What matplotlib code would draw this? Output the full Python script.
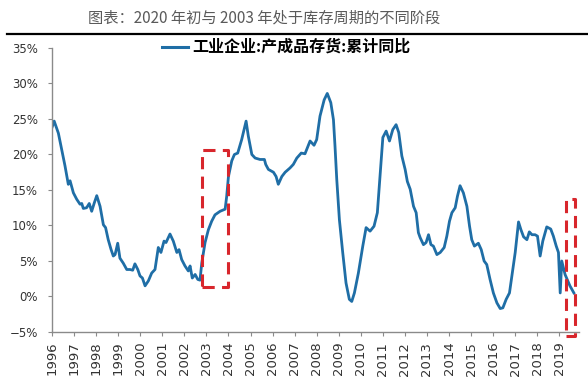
import matplotlib.pyplot as plt
from matplotlib.patches import Rectangle
from matplotlib.lines import Line2D

plt.rcParams['font.family'] = ['Noto Sans CJK SC', 'DejaVu Sans']
plt.rcParams['axes.unicode_minus'] = True

# --------------------------------------------------
# Data (decimal years / %)
# --------------------------------------------------
dates = [
    1996.00, 1996.10, 1996.29, 1996.44, 1996.59, 1996.74, 1996.82, 1996.97,
    1997.12, 1997.27, 1997.35, 1997.42, 1997.57, 1997.69, 1997.80, 1997.92,
    1998.03, 1998.18, 1998.33, 1998.43, 1998.55, 1998.68, 1998.78, 1998.86,
    1998.98, 1999.08, 1999.23, 1999.39, 1999.54, 1999.66, 1999.76, 1999.89,
    1999.99, 2000.10, 2000.22, 2000.37, 2000.52, 2000.67, 2000.75, 2000.82,
    2000.94, 2001.08, 2001.17, 2001.35, 2001.50, 2001.66, 2001.76, 2001.88,
    2002.03, 2002.18, 2002.26, 2002.36, 2002.49, 2002.61, 2002.71, 2002.79,
    2002.94, 2003.09, 2003.24, 2003.39, 2003.62, 2003.85, 2003.92, 2004.00,
    2004.15, 2004.27, 2004.42, 2004.60, 2004.80, 2004.90, 2005.06, 2005.21,
    2005.43, 2005.63, 2005.69, 2005.81, 2006.04, 2006.16, 2006.26, 2006.42,
    2006.57, 2006.79, 2006.94, 2007.10, 2007.30, 2007.47, 2007.70, 2007.88,
    2008.00, 2008.15, 2008.34, 2008.48, 2008.64, 2008.76, 2008.83, 2008.91,
    2009.03, 2009.18, 2009.33, 2009.48, 2009.59, 2009.71, 2009.89, 2010.09,
    2010.24, 2010.42, 2010.60, 2010.75, 2010.88, 2011.00, 2011.15, 2011.30,
    2011.45, 2011.60, 2011.72, 2011.86, 2012.01, 2012.11, 2012.24, 2012.39,
    2012.51, 2012.61, 2012.69, 2012.84, 2012.96, 2013.07, 2013.18, 2013.29,
    2013.45, 2013.60, 2013.78, 2013.90, 2014.02, 2014.13, 2014.28, 2014.38,
    2014.50, 2014.65, 2014.81, 2014.93, 2015.03, 2015.15, 2015.33, 2015.46,
    2015.59, 2015.71, 2015.86, 2016.01, 2016.17, 2016.32, 2016.44, 2016.59,
    2016.74, 2016.85, 2017.00, 2017.15, 2017.26, 2017.38, 2017.53, 2017.64,
    2017.76, 2017.90, 2018.01, 2018.13, 2018.25, 2018.43, 2018.61, 2018.73,
    2018.86, 2018.96, 2019.04, 2019.11, 2019.26, 2019.33, 2019.48, 2019.66,
]
values = [
    23.8, 24.7, 23.0, 20.7, 18.4, 15.8, 16.3, 14.6,
    13.7, 13.0, 13.1, 12.4, 12.5, 13.1, 12.0, 13.2,
    14.2, 12.7, 10.1, 9.7, 8.0, 6.6, 5.7, 5.9,
    7.5, 5.4, 4.7, 3.8, 3.8, 3.7, 4.6, 3.8,
    2.9, 2.6, 1.5, 2.2, 3.3, 3.8, 5.4, 6.9,
    6.2, 7.8, 7.6, 8.8, 7.8, 6.2, 6.6, 5.2,
    4.3, 3.6, 4.3, 2.6, 3.1, 2.4, 2.3, 4.7,
    7.6, 9.4, 10.6, 11.5, 12.0, 12.3, 14.1, 16.9,
    19.1, 20.0, 20.2, 22.1, 24.7, 22.6, 20.0, 19.5,
    19.3, 19.3, 18.6, 17.9, 17.5, 16.9, 15.8, 16.9,
    17.5, 18.1, 18.6, 19.5, 20.2, 20.1, 21.9, 21.3,
    22.1, 25.4, 27.7, 28.6, 27.3, 24.9, 21.2, 16.5,
    10.8, 6.2, 1.9, -0.4, -0.7, 0.5, 3.3, 7.1,
    9.7, 9.2, 9.9, 11.8, 17.4, 22.4, 23.3, 21.9,
    23.5, 24.2, 23.1, 19.8, 17.9, 16.2, 15.1, 12.7,
    11.8, 9.0, 8.3, 7.3, 7.6, 8.7, 7.3, 7.1,
    5.9, 6.2, 6.9, 8.5, 10.6, 11.8, 12.5, 14.1,
    15.6, 14.6, 12.7, 9.9, 8.0, 7.1, 7.5, 6.6,
    5.0, 4.5, 2.4, 0.5, -0.9, -1.7, -1.6, -0.4,
    0.5, 2.9, 6.2, 10.5, 9.4, 8.4, 8.0, 9.1,
    8.7, 8.7, 8.5, 5.7, 7.8, 9.8, 9.5, 8.5,
    7.1, 6.2, 0.5, 5.0, 3.1, 2.6, 1.5, 0.5,
]

year_ticks = list(range(1996, 2020))
y_ticks = [-5, 0, 5, 10, 15, 20, 25, 30, 35]

# highlight boxes: (x0, x1, y0, y1)
box_2003 = (2002.79, 2003.97, 1.4, 20.6)
box_2020 = (2019.30, 2019.72, -5.6, 13.7)

title = "图表：2020 年初与 2003 年处于库存周期的不同阶段"
series_name = "工业企业:产成品存货:累计同比"

line_color = "#1f6ea6"
red = "#d8262c"

# --------------------------------------------------
# Plot
# --------------------------------------------------
fig = plt.figure(figsize=(5.88, 3.77), dpi=100)
ax = fig.add_axes([0.0884, 0.1194, 0.8966, 0.7533])

ax.plot(dates, values, color=line_color, lw=2.0, solid_joinstyle='round')

for x0, x1, y0, y1 in [box_2003, box_2020]:
    rect = Rectangle((x0, y0), x1 - x0, y1 - y0, fill=False, edgecolor=red,
                     lw=2.2, linestyle=(0, (4, 2.4)), joinstyle='round',
                     clip_on=False, zorder=5)
    ax.add_patch(rect)

ax.set_xlim(1996, 2019.9)
ax.set_ylim(-5, 35)
ax.set_yticks(y_ticks)
ax.set_yticklabels([f"{v}%".replace("-", "\u2212") for v in y_ticks])
ax.set_xticks(year_ticks)
ax.set_xticklabels([str(y) for y in year_ticks], rotation=90)

for side in ['top', 'right']:
    ax.spines[side].set_visible(False)
for side in ['left', 'bottom']:
    ax.spines[side].set_color('#8a8a8a')
    ax.spines[side].set_linewidth(1.0)

ax.tick_params(axis='both', direction='out', length=3, width=0.8,
               color='#8a8a8a', labelcolor='#333333')
ax.tick_params(axis='y', labelsize=8.5, pad=7)
ax.tick_params(axis='x', labelsize=9.5, pad=4)
for lbl in ax.get_xticklabels() + ax.get_yticklabels():
    lbl.set_family(['Liberation Sans Narrow', 'DejaVu Sans'])

# title and rule
fig.text(0.45, 0.952, title, ha='center', va='center', fontsize=11,
         color='#5a5a5a', fontweight='light')
fig.add_artist(Line2D([0.012, 1.0], [0.91, 0.91], color='black', lw=1.6))

# legend
fig.add_artist(Line2D([162 / 588, 188 / 588], [1 - 47 / 377, 1 - 47 / 377],
                      color=line_color, lw=2.2))
fig.text(192 / 588, 1 - 47 / 377, series_name, ha='left', va='center',
         fontsize=11.5, fontweight='bold', color='black')

fig.savefig("out.png", dpi=100)
